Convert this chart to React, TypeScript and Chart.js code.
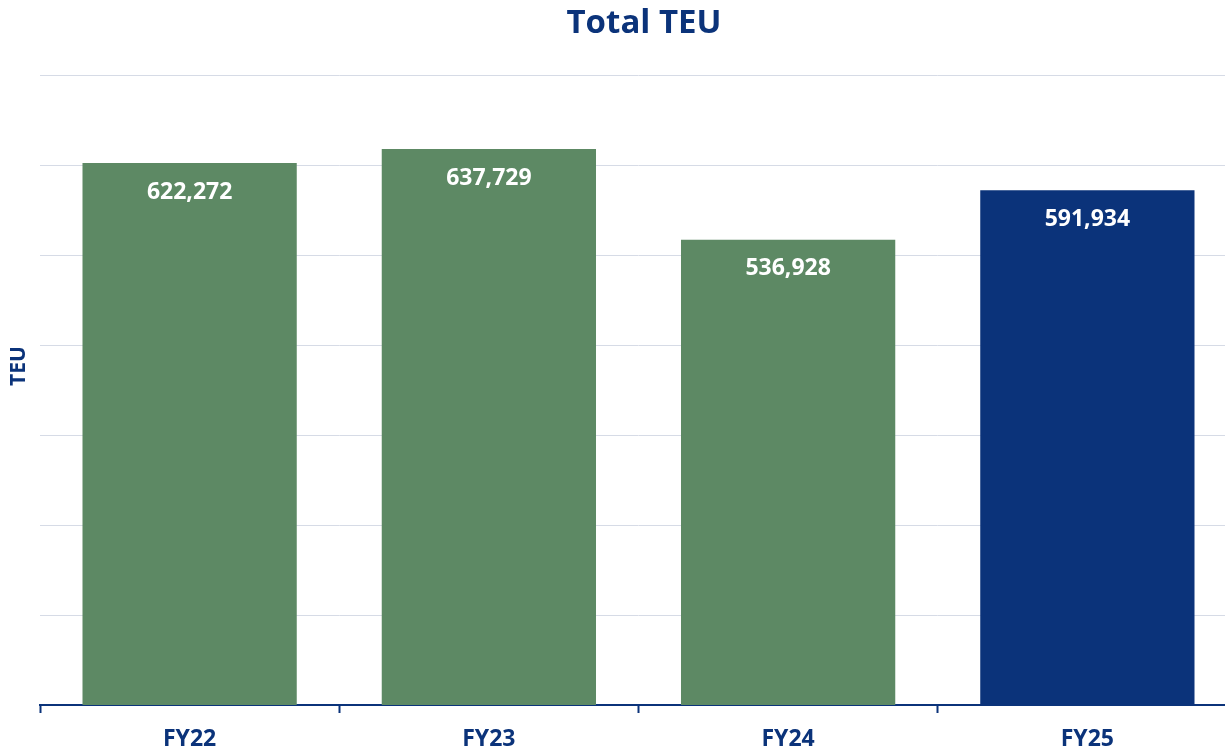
import React, { useEffect, useRef } from "react";
import { Chart, registerables } from "chart.js";

Chart.register(...registerables);

const categories = ["FY22", "FY23", "FY24", "FY25"];
const teuValues = [622272, 637729, 536928, 591934];
const barColors = ["#5D8964", "#5D8964", "#5D8964", "#0B337A"];
const yMin = 20000;
const yMax = 720000;
const yStep = 100000;

const NAVY = "#0B337A";
const FONT = "'Open Sans', 'Noto Sans', sans-serif";

const valueLabelPlugin = {
  id: "valueLabels",
  afterDatasetsDraw(chart: any) {
    const ctx = chart.ctx;
    const meta = chart.getDatasetMeta(0);
    ctx.save();
    ctx.font = `bold 23px ${FONT}`;
    ctx.fillStyle = "#FFFFFF";
    ctx.textAlign = "center";
    ctx.textBaseline = "middle";
    meta.data.forEach((bar: any, i: number) => {
      ctx.fillText(teuValues[i].toLocaleString("en-US"), bar.x, bar.y + 29);
    });
    ctx.restore();
  },
};

const textPlugin = {
  id: "chartTexts",
  afterDraw(chart: any) {
    const ctx = chart.ctx;
    ctx.save();
    ctx.font = `bold 33px ${FONT}`;
    ctx.fillStyle = NAVY;
    ctx.textAlign = "center";
    ctx.textBaseline = "middle";
    ctx.fillText("Total TEU", 644, 24);
    ctx.translate(19, 366);
    ctx.rotate(-Math.PI / 2);
    ctx.font = `bold 21px ${FONT}`;
    ctx.fillText("TEU", 0, 0);
    ctx.restore();
  },
};

export default function App() {
  const ref = useRef<HTMLCanvasElement | null>(null);
  useEffect(() => {
    document.body.style.margin = "0";
    document.body.style.overflow = "hidden";
    if (!ref.current) return;
    const chart = new Chart(ref.current, {
      type: "bar",
      data: {
        labels: categories,
        datasets: [
          {
            data: teuValues,
            backgroundColor: barColors,
            borderWidth: 0,
            barPercentage: 0.8,
            categoryPercentage: 0.895,
          },
        ],
      },
      options: {
        animation: false,
        responsive: true,
        maintainAspectRatio: false,
        layout: { padding: { left: 0, right: 0, top: 75, bottom: 0 } },
        plugins: {
          legend: { display: false },
          tooltip: { enabled: false },
          title: { display: false },
        },
        scales: {
          x: {
            grid: {
              display: true,
              drawOnChartArea: false,
              drawTicks: true,
              tickLength: 8,
              tickColor: NAVY,
              tickWidth: 2,
              offset: true,
            },
            border: { display: true, color: NAVY, width: 2 },
            ticks: {
              color: NAVY,
              font: { family: FONT, size: 23, weight: "bold" },
              padding: 13,
            },
            afterFit(scale: any) {
              scale.height = 47;
            },
          },
          y: {
            min: yMin,
            max: yMax,
            ticks: { display: false, stepSize: yStep },
            grid: { color: "#D6DBE6", lineWidth: 1, drawTicks: false },
            border: { display: false },
            afterFit(scale: any) {
              scale.width = 40;
            },
          },
        },
      },
      plugins: [valueLabelPlugin, textPlugin],
    });
    return () => chart.destroy();
  }, []);
  return (
    <div style={{ width: 1225, height: 752, overflow: "hidden", position: "relative" }}>
      <div style={{ width: 1237, height: 752, position: "absolute", left: 0, top: 0 }}>
        <canvas ref={ref} />
      </div>
    </div>
  );
}
